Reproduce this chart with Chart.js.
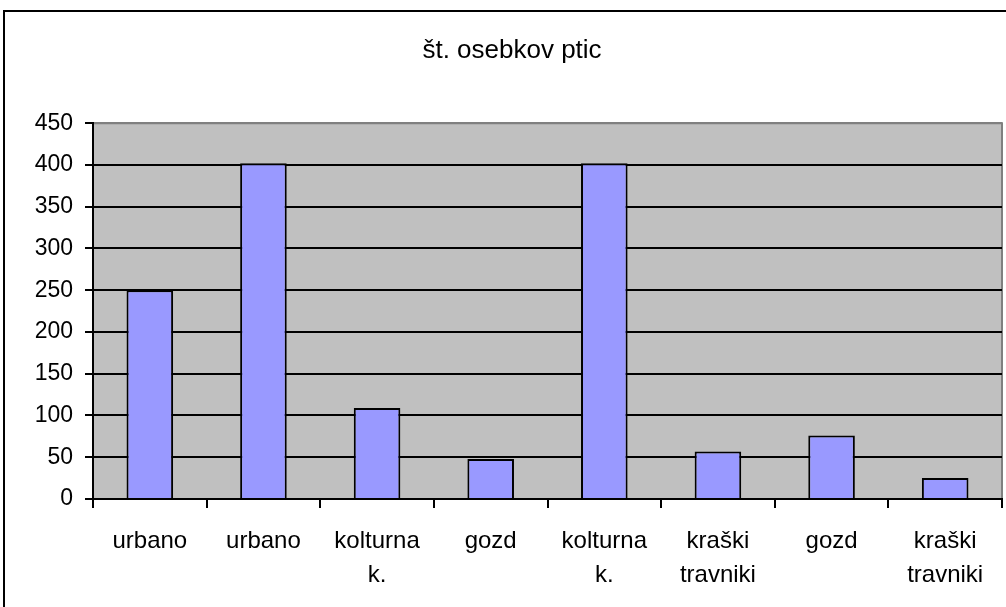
<!DOCTYPE html>
<html>
<head>
<meta charset="utf-8">
<script src="https://cdn.jsdelivr.net/npm/chart.js@4"></script>
<style>
	body { margin: 0; background: #fff; }
	canvas { display: block; }
</style>
</head>
<body>
<canvas id="chart" width="1006" height="607"></canvas>
<script>
const chartTitle = 'št. osebkov ptic';
const categories = [
	'urbano',
	'urbano',
	['kolturna', 'k.'],
	'gozd',
	['kolturna', 'k.'],
	['kraški', 'travniki'],
	'gozd',
	['kraški', 'travniki'],
];
const birdCounts = [250, 402, 109, 48, 402, 57, 76, 25];
const yTicks = [0, 50, 100, 150, 200, 250, 300, 350, 400, 450];

const fontFamily = 'Arial, "Liberation Sans", sans-serif';

// white page, outer chart frame and gray plot area
const frameAndPlot = {
	id: 'frameAndPlot',
	beforeDraw(chart) {
		const { ctx, chartArea } = chart;
		ctx.save();
		ctx.fillStyle = '#fff';
		ctx.fillRect(0, 0, chart.width, chart.height);
		ctx.strokeStyle = '#000';
		ctx.lineWidth = 2;
		ctx.strokeRect(4, 11, chart.width + 10, chart.height + 10);
		ctx.fillStyle = '#C0C0C0';
		ctx.fillRect(chartArea.left, chartArea.top, chartArea.right - chartArea.left, chartArea.bottom - chartArea.top);
		ctx.strokeStyle = '#808080';
		ctx.lineWidth = 2;
		ctx.beginPath();
		ctx.moveTo(chartArea.right, chartArea.bottom);
		ctx.lineTo(chartArea.right, chartArea.top);
		ctx.lineTo(chartArea.left, chartArea.top);
		ctx.stroke();
		ctx.restore();
	},
};

new Chart(document.getElementById('chart'), {
	type: 'bar',
	data: {
		labels: categories,
		datasets: [
			{
				data: birdCounts,
				backgroundColor: '#9999FF',
				borderColor: '#000',
				borderWidth: 2,
				borderSkipped: 'bottom',
				categoryPercentage: 1,
				barPercentage: 0.41,
			},
		],
	},
	options: {
		responsive: false,
		animation: false,
		layout: {
			padding: { left: 22, right: 4, top: 0, bottom: 0 },
		},
		plugins: {
			legend: { display: false },
			tooltip: { enabled: false },
			title: {
				display: true,
				text: chartTitle,
				color: '#000',
				font: { family: fontFamily, size: 26, weight: 'normal', lineHeight: 1.2 },
				padding: { top: 35, bottom: 57 },
			},
		},
		scales: {
			x: {
				afterFit: (scale) => { scale.height = 108; },
				grid: {
					offset: true,
					drawOnChartArea: false,
					color: '#000',
					lineWidth: 2,
					tickLength: 9,
				},
				border: { color: '#000', width: 2 },
				ticks: {
					color: '#000',
					padding: 17,
					maxRotation: 0,
					autoSkip: false,
					font: { family: fontFamily, size: 24, lineHeight: 1.4 },
				},
			},
			y: {
				min: 0,
				max: 450,
				afterFit: (scale) => { scale.width = 71; },
				afterBuildTicks: (scale) => {
					scale.ticks = yTicks.map((v) => ({ value: v }));
				},
				grid: {
					color: (c) => (c.tick && c.tick.value === 450 ? '#808080' : '#000'),
					tickColor: '#000',
					lineWidth: 2,
					tickLength: 8,
				},
				border: { color: '#000', width: 2 },
				ticks: {
					color: '#000',
					padding: 12,
					font: { family: fontFamily, size: 23 },
				},
			},
		},
	},
	plugins: [frameAndPlot],
});
</script>
</body>
</html>
